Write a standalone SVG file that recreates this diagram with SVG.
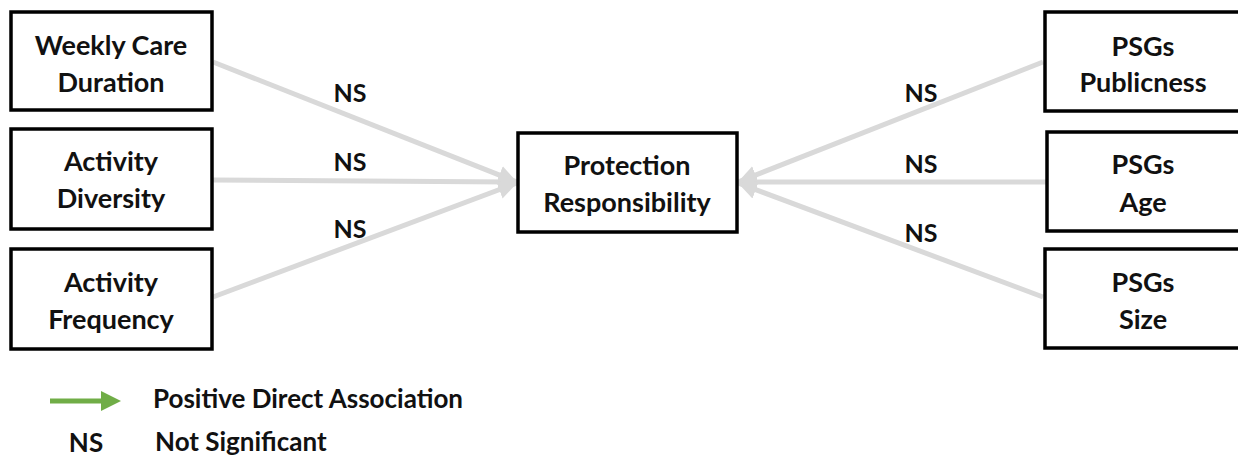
<svg xmlns="http://www.w3.org/2000/svg" width="1238" height="458" viewBox="0 0 1238 458">
  <style>
    .box { fill: #ffffff; stroke: #000000; stroke-width: 3.5; }
    .lbl { font-family: Lato, "Liberation Sans", sans-serif; font-weight: bold; font-size: 27px; fill: #111111; text-anchor: middle; dominant-baseline: central; }
    .ns { font-family: Lato, "Liberation Sans", sans-serif; font-weight: bold; font-size: 25px; fill: #111111; text-anchor: middle; dominant-baseline: central; }
    .leg { font-family: Lato, "Liberation Sans", sans-serif; font-weight: bold; font-size: 26px; fill: #111111; }
    .link { stroke: #d9d9d9; stroke-width: 5; fill: none; marker-end: url(#greyHead); }
  </style>
  <defs>
    <marker id="greyHead" viewBox="0 0 10 10" refX="10" refY="5" markerWidth="3.8" markerHeight="3.8" orient="auto" markerUnits="strokeWidth">
      <path d="M0,0 L10,5 L0,10 Z" fill="#d9d9d9"/>
    </marker>
    <marker id="greenHead" viewBox="0 0 10 10" refX="5" refY="5" markerWidth="4" markerHeight="4" orient="auto" markerUnits="strokeWidth">
      <path d="M0,0 L10,5 L0,10 Z" fill="#70ad47"/>
    </marker>
  </defs>

  <!-- connectors -->
  <g id="connectors">
    <line class="link" x1="213" y1="62" x2="517" y2="182"/>
    <line class="link" x1="213" y1="180" x2="517" y2="182"/>
    <line class="link" x1="213" y1="297" x2="517" y2="183"/>
    <line class="link" x1="1043" y1="62" x2="738" y2="182"/>
    <line class="link" x1="1046" y1="182" x2="738" y2="182"/>
    <line class="link" x1="1043" y1="297" x2="738" y2="183"/>
  </g>

  <!-- significance labels -->
  <g id="edge-labels">
    <text class="ns" x="350" y="92">NS</text>
    <text class="ns" x="350" y="161">NS</text>
    <text class="ns" x="350" y="228">NS</text>
    <text class="ns" x="921" y="92">NS</text>
    <text class="ns" x="921" y="163">NS</text>
    <text class="ns" x="921" y="232">NS</text>
  </g>

  <g id="weekly-care-duration">
    <rect class="box" x="11" y="12" width="201" height="98"/>
    <text class="lbl" x="111" y="44">Weekly Care</text>
    <text class="lbl" x="111" y="81">Duration</text>
  </g>
  <g id="activity-diversity">
    <rect class="box" x="11" y="129" width="201" height="100"/>
    <text class="lbl" x="111" y="160">Activity</text>
    <text class="lbl" x="111" y="197">Diversity</text>
  </g>
  <g id="activity-frequency">
    <rect class="box" x="11" y="249" width="201" height="100"/>
    <text class="lbl" x="111" y="281">Activity</text>
    <text class="lbl" x="111" y="318">Frequency</text>
  </g>

  <g id="protection-responsibility">
    <rect class="box" x="518" y="133" width="219" height="99"/>
    <text class="lbl" x="627" y="164">Protection</text>
    <text class="lbl" x="627" y="201">Responsibility</text>
  </g>

  <g id="psgs-publicness">
    <rect class="box" x="1045" y="12" width="200" height="99"/>
    <text class="lbl" x="1143" y="45">PSGs</text>
    <text class="lbl" x="1143" y="81">Publicness</text>
  </g>
  <g id="psgs-age">
    <rect class="box" x="1047" y="132" width="200" height="99"/>
    <text class="lbl" x="1143" y="163">PSGs</text>
    <text class="lbl" x="1143" y="201">Age</text>
  </g>
  <g id="psgs-size">
    <rect class="box" x="1045" y="249" width="200" height="99"/>
    <text class="lbl" x="1143" y="281">PSGs</text>
    <text class="lbl" x="1143" y="318">Size</text>
  </g>

  <!-- legend -->
  <g id="legend">
    <line x1="50" y1="401" x2="111" y2="401" stroke="#70ad47" stroke-width="5" marker-end="url(#greenHead)"/>
    <text class="leg" x="153" y="408">Positive Direct Association</text>
    <text class="leg" x="86" y="452" text-anchor="middle">NS</text>
    <text class="leg" x="155" y="451">Not Significant</text>
  </g>
</svg>
